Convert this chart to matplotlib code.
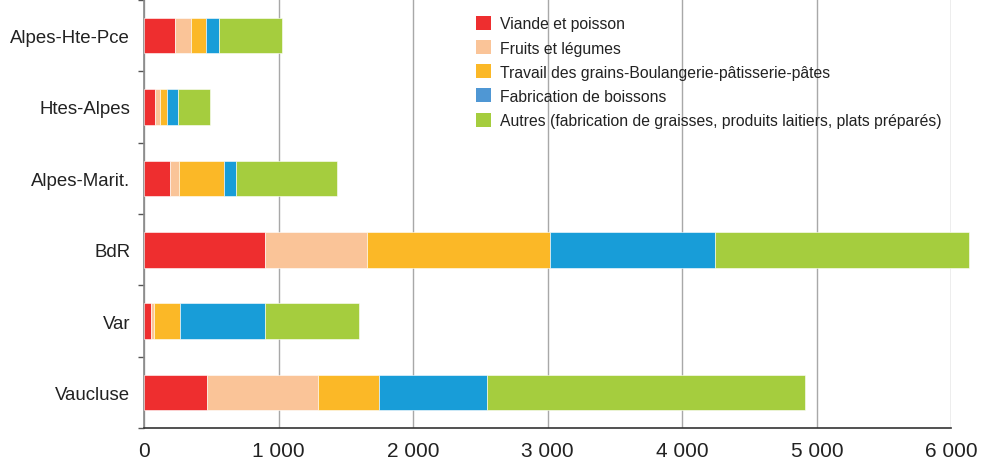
import matplotlib
matplotlib.use("Agg")
import matplotlib.pyplot as plt
from matplotlib.patches import Patch
from matplotlib.ticker import FuncFormatter, FixedLocator
import numpy as np

plt.rcParams['font.family'] = ['Liberation Sans', 'DejaVu Sans']

departements = ["Alpes-Hte-Pce", "Htes-Alpes", "Alpes-Marit.", "BdR", "Var", "Vaucluse"]
series_names = [
    "Viande et poisson",
    "Fruits et légumes",
    "Travail des grains-Boulangerie-pâtisserie-pâtes",
    "Fabrication de boissons",
    "Autres (fabrication de graisses, produits laitiers, plats préparés)",
]
viande = [232, 82, 193, 901, 52, 470]
fruits = [115, 37, 67, 757, 25, 822]
grains = [113, 54, 336, 1361, 190, 450]
boissons = [99, 79, 87, 1223, 631, 807]
autres = [463, 238, 752, 1886, 696, 2366]
x_ticks = [0, 1000, 2000, 3000, 4000, 5000, 6000]

series = [viande, fruits, grains, boissons, autres]
colors = ["#ee2e2f", "#fac498", "#fbb827", "#189dd8", "#a5cd3e"]
legend_colors = ["#ee2e2f", "#fac498", "#fbb827", "#4f97d4", "#a5cd3e"]

fig = plt.figure(figsize=(9.87, 4.6), dpi=100)
ax = fig.add_axes([0.146, 0.067, 0.818, 0.931])

y = np.arange(len(departements))
left = np.zeros(len(departements))
for vals, col in zip(series, colors):
    ax.barh(y, vals, left=left, height=0.5, color=col, edgecolor="#ffffff",
            linewidth=0.4, clip_on=False, zorder=3)
    left += np.array(vals)

ax.set_ylim(len(departements) - 0.5, -0.5)
ax.set_xlim(0, 6000)

ax.set_yticks(y)
ax.set_yticklabels(departements, fontsize=13.4, color="#222222")
ax.yaxis.set_minor_locator(FixedLocator(np.arange(-0.5, len(departements), 1.0)))
ax.tick_params(axis="y", which="major", length=0, pad=10)
ax.tick_params(axis="y", which="minor", length=4, width=1, color="#555555", direction="out")

ax.set_xticks(x_ticks)
ax.xaxis.set_major_formatter(FuncFormatter(lambda v, p: f"{int(v):,}".replace(",", " ")))
ax.tick_params(axis="x", length=0, pad=9, labelsize=15, labelcolor="#222222")

ax.grid(axis="x", color="#a8a8a8", linewidth=1)
ax.set_axisbelow(True)
for s in ["top", "right"]:
    ax.spines[s].set_visible(False)
ax.spines["left"].set_color("#888888")
ax.spines["left"].set_linewidth(1.2)
ax.spines["bottom"].set_color("#333333")
ax.spines["bottom"].set_linewidth(1.2)

handles = [Patch(facecolor=c, edgecolor="none") for c in legend_colors]
leg = fig.legend(handles, series_names, loc="upper left", bbox_to_anchor=(0.482, 0.963),
                 frameon=False, fontsize=11.35, handlelength=1.0, handleheight=1.0,
                 labelspacing=0.55, handletextpad=0.55, borderpad=0, borderaxespad=0)
for t in leg.get_texts():
    t.set_color("#222222")

fig.savefig("out.png", dpi=100)
